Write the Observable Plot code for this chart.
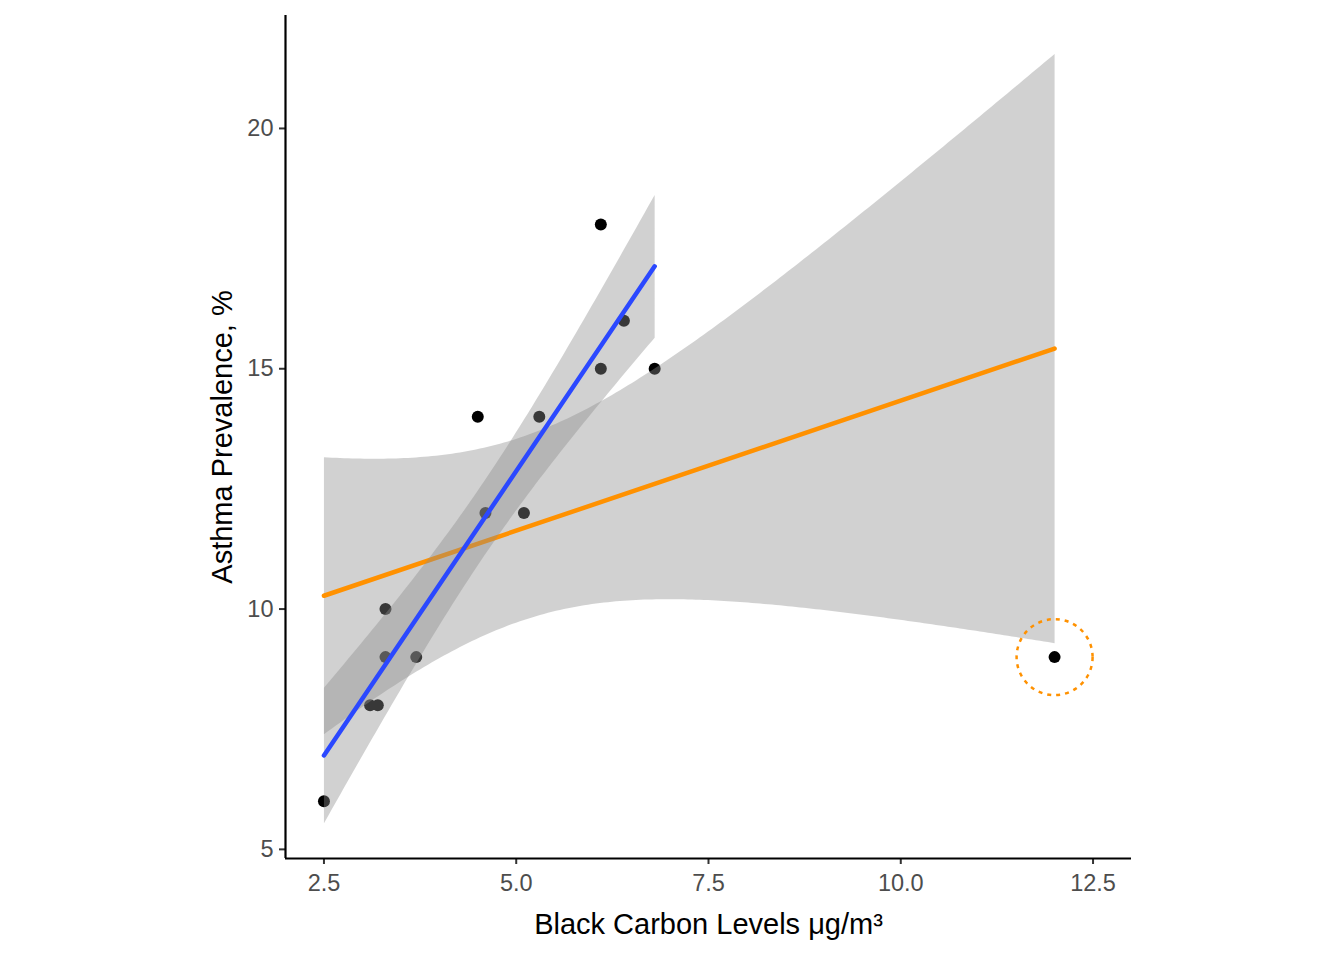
<!DOCTYPE html>
<html>
<head>
<meta charset="utf-8">
<script src="https://cdn.jsdelivr.net/npm/d3@7"></script>
<script src="https://cdn.jsdelivr.net/npm/@observablehq/plot@0.6"></script>
<style>
  html, body { margin: 0; padding: 0; background: #ffffff; }
  #chart { width: 1344px; height: 960px; }
  svg { font-family: "Liberation Sans", Arial, sans-serif; }
</style>
</head>
<body>
<div id="chart"></div>
<script>
// Black carbon (µg/m³) and asthma prevalence (%) per site
const blackCarbon = [2.5, 3.1, 3.2, 3.3, 3.3, 3.7, 4.5, 4.6, 5.1, 5.3, 6.1, 6.1, 6.4, 6.8, 12.0];
const asthma      = [6,   8,   8,   9,   10,  9,   14,  12,  12,  14,  18,  15,  16,  15,  9];
const outlierIndex = [14];

const xTicks = [2.5, 5.0, 7.5, 10.0, 12.5];
const yTicks = [5, 10, 15, 20];
const xDomain = [2.0, 13.0];
const yDomain = [4.81, 22.35];

const xLabel = "Black Carbon Levels μg/m³";
const yLabel = "Asthma Prevalence, %";

const allData = blackCarbon.map((x, i) => ({x, y: asthma[i], outlier: outlierIndex.includes(i)}));
const noOutlier = allData.filter(d => !d.outlier);
const outlier = allData.filter(d => d.outlier);

const orange = "#FF9100";
const blue = "#2B48FF";
const bandFill = "#8c8c8c";

const chart = Plot.plot({
  width: 1344,
  height: 960,
  marginLeft: 285,
  marginRight: 213,
  marginTop: 15,
  marginBottom: 102,
  x: {domain: xDomain},
  y: {domain: yDomain},
  style: {fontFamily: "Liberation Sans, Arial, sans-serif", background: "#ffffff"},
  marks: [
    Plot.dot(allData, {x: "x", y: "y", r: 6, fill: "#000000", stroke: "none"}),
    Plot.linearRegressionY(allData, {x: "x", y: "y", stroke: orange, strokeWidth: 4.5, fill: bandFill, fillOpacity: 0.4, ci: 0.95}),
    Plot.linearRegressionY(noOutlier, {x: "x", y: "y", stroke: blue, strokeWidth: 4.5, fill: bandFill, fillOpacity: 0.4, ci: 0.95}),
    Plot.dot(outlier, {x: "x", y: "y", r: 38, fill: "none", stroke: orange, strokeWidth: 2.5, strokeDasharray: "4,5"}),
    Plot.axisX({ticks: xTicks, tickFormat: d3.format(".1f"), tickSize: 6, tickPadding: 10, fontSize: 23.5, color: "#4d4d4d", stroke: "#333333", strokeWidth: 2, label: null}),
    Plot.axisY({ticks: yTicks, tickSize: 6, tickPadding: 6, fontSize: 23.5, color: "#4d4d4d", stroke: "#333333", strokeWidth: 2, label: null}),
    Plot.ruleY([yDomain[0]], {stroke: "#000000", strokeWidth: 2.2}),
    Plot.ruleX([xDomain[0]], {stroke: "#000000", strokeWidth: 2.2}),
    Plot.text([xLabel], {frameAnchor: "bottom", lineAnchor: "middle", textAnchor: "middle", dy: 66, fontSize: 29, fill: "#000000"}),
    Plot.text([yLabel], {frameAnchor: "left", lineAnchor: "middle", textAnchor: "middle", dx: -63, rotate: -90, fontSize: 29, fill: "#000000"})
  ]
});
document.getElementById("chart").appendChild(chart);
</script>
</body>
</html>
